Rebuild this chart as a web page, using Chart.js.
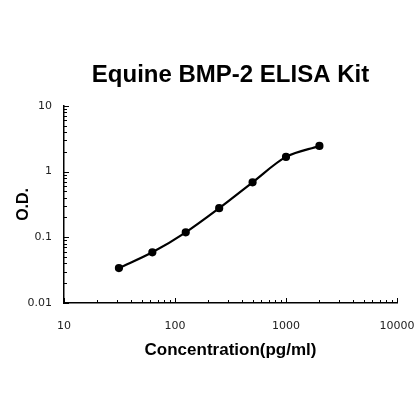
<!DOCTYPE html>
<html>
<head>
<meta charset="utf-8">
<script src="https://cdn.jsdelivr.net/npm/chart.js@4"></script>
<style>
  html, body { margin: 0; padding: 0; background: #fff; }
  #wrap { width: 420px; height: 420px; }
</style>
</head>
<body>
<div id="wrap"><canvas id="c" width="420" height="420"></canvas></div>
<script>
// standard curve data
const conc = [31.25, 62.5, 125, 250, 500, 1000, 2000];
const od = [0.034, 0.059, 0.119, 0.277, 0.686, 1.67, 2.45];
const xTicks = [10, 100, 1000, 10000];
const yTicks = [0.01, 0.1, 1, 10];

// small inward ticks on both axes, like the original
const inwardTicks = {
  id: 'inwardTicks',
  afterDraw(chart) {
    const ctx = chart.ctx;
    const xs = chart.scales.x, ys = chart.scales.y;
    ctx.save();
    ctx.strokeStyle = '#000';
    ctx.lineWidth = 1;
    for (let k = 1; k <= 4; k++) {
      for (let m = 1; m <= 9; m++) {
        const v = m * Math.pow(10, k);
        if (v < xs.min || v > xs.max) continue;
        const px = Math.round(xs.getPixelForValue(v)) + 0.5;
        const len = m === 1 ? 5 : 3;
        ctx.beginPath();
        ctx.moveTo(px, xs.top);
        ctx.lineTo(px, xs.top - len);
        ctx.stroke();
      }
    }
    for (let k = -2; k <= 1; k++) {
      for (let m = 1; m <= 9; m++) {
        const v = m * Math.pow(10, k);
        if (v < ys.min || v > ys.max) continue;
        const py = Math.round(ys.getPixelForValue(v)) + 0.5;
        const len = m === 1 ? 5 : 3;
        ctx.beginPath();
        ctx.moveTo(ys.right, py);
        ctx.lineTo(ys.right + len, py);
        ctx.stroke();
      }
    }
    ctx.restore();
  }
};

new Chart(document.getElementById('c'), {
  type: 'line',
  data: {
    datasets: [{
      data: conc.map((x, i) => ({ x: x, y: od[i] })),
      borderColor: '#000',
      backgroundColor: '#000',
      borderWidth: 2.2,
      pointRadius: 3,
      pointBackgroundColor: '#000',
      cubicInterpolationMode: 'monotone',
      fill: false
    }]
  },
  options: {
    responsive: false,
    animation: false,
    layout: { padding: { left: 0, right: 23, top: 0, bottom: 0 } },
    plugins: {
      legend: { display: false },
      tooltip: { enabled: false },
      title: {
        display: true,
        text: 'Equine BMP-2 ELISA Kit',
        fullSize: false,
        color: '#000',
        font: { family: '"Liberation Sans", Arial, sans-serif', size: 24, weight: 'bold', lineHeight: 1.2 },
        padding: { top: 61, bottom: 16 }
      }
    },
    scales: {
      x: {
        type: 'logarithmic',
        min: 10, max: 10000,
        grid: { display: false, drawTicks: false },
        border: { display: true, color: '#000', width: 1.5 },
        afterBuildTicks(s) { s.ticks = xTicks.map(v => ({ value: v })); },
        afterFit(s) { s.height = 117; s.paddingLeft = 0; s.paddingRight = 0; },
        ticks: {
          color: '#222',
          padding: 17,
          maxRotation: 0,
          autoSkip: false,
          font: { family: '"DejaVu Sans", Verdana, sans-serif', size: 11 },
          callback: v => String(v)
        },
        title: {
          display: true,
          text: 'Concentration(pg/ml)',
          color: '#000',
          font: { family: '"Liberation Sans", Arial, sans-serif', size: 17, weight: 'bold', lineHeight: 1.2 },
          padding: { top: 0, bottom: 59 }
        }
      },
      y: {
        type: 'logarithmic',
        min: 0.01, max: 10,
        grid: { display: false, drawTicks: false },
        border: { display: true, color: '#000', width: 1.5 },
        afterBuildTicks(s) { s.ticks = yTicks.map(v => ({ value: v })); },
        afterFit(s) { s.width = 64; s.paddingTop = 0; s.paddingBottom = 0; },
        ticks: {
          color: '#222',
          padding: 12,
          autoSkip: false,
          font: { family: '"DejaVu Sans", Verdana, sans-serif', size: 11 },
          callback: v => String(v)
        },
        title: {
          display: true,
          text: 'O.D.',
          color: '#000',
          font: { family: '"Liberation Sans", Arial, sans-serif', size: 16, weight: 'bold', lineHeight: 1.2 },
          padding: { top: 14, bottom: 0 }
        }
      }
    }
  },
  plugins: [inwardTicks]
});
</script>
</body>
</html>
